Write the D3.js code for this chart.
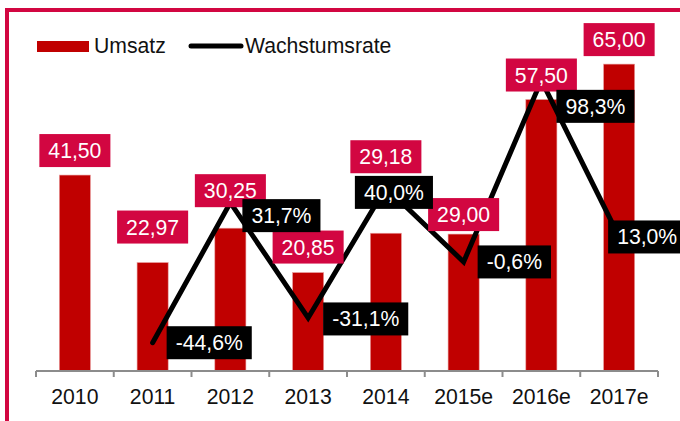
<!DOCTYPE html>
<html>
<head>
<meta charset="utf-8">
<script src="https://cdn.jsdelivr.net/npm/d3@7"></script>
<style>
  html, body { margin: 0; padding: 0; background: #fff; }
  svg { display: block; font-family: "Liberation Sans", Arial, sans-serif; }
</style>
</head>
<body>
<svg id="chart" width="680" height="421"></svg>
<script>
const years = ["2010", "2011", "2012", "2013", "2014", "2015e", "2016e", "2017e"];
const umsatz = [41.50, 22.97, 30.25, 20.85, 29.18, 29.00, 57.50, 65.00];
const wachstum = [null, -44.6, 31.7, -31.1, 40.0, -0.6, 98.3, 13.0];
const seriesNames = ["Umsatz", "Wachstumsrate"];

const svg = d3.select("#chart"),
    red = "#c00000",
    crimson = "#d20641",
    fontSize = 21.2;

const de = d3.formatLocale({ decimal: ",", thousands: ".", grouping: [3], currency: ["", " €"], minus: "-" });
const fmtValue = de.format(".2f"),
    fmtPct = v => de.format(".1f")(v) + "%";

// Frame (only top and left edges visible)
svg.append("rect")
    .attr("x", 7).attr("y", 10)
    .attr("width", 720).attr("height", 460)
    .attr("fill", "none")
    .attr("stroke", crimson)
    .attr("stroke-width", 4);

const x = d3.scaleBand().domain(years).range([36, 658]);
const y = d3.scaleLinear().domain([0, 70]).range([371, 40.5]);
const y2 = d3.scaleLinear().domain([-60, 120]).range([371, 40.5]);
const barW = x.bandwidth() * 0.4;
const cx = d => x(d) + x.bandwidth() / 2;

// Bars
svg.selectAll(".bar")
    .data(years)
    .enter()
    .append("rect")
    .attr("class", "bar")
    .attr("x", d => cx(d) - barW / 2)
    .attr("y", (d, i) => y(umsatz[i]))
    .attr("width", barW)
    .attr("height", (d, i) => y(0) - y(umsatz[i]))
    .attr("fill", red)
    .attr("stroke", "#eaa0a0")
    .attr("stroke-width", 0.6);

// Axis line + ticks at band edges
svg.append("line")
    .attr("x1", 36).attr("x2", 658)
    .attr("y1", y(0)).attr("y2", y(0))
    .attr("stroke", "#8c8c8c")
    .attr("stroke-width", 2);

const edges = years.map(d => x(d)).concat([x.range()[1]]);
svg.selectAll(".tick")
    .data(edges)
    .enter()
    .append("line")
    .attr("x1", d => d).attr("x2", d => d)
    .attr("y1", y(0)).attr("y2", y(0) + 6)
    .attr("stroke", "#8c8c8c")
    .attr("stroke-width", 2);

svg.selectAll(".xlabel")
    .data(years)
    .enter()
    .append("text")
    .attr("x", d => cx(d))
    .attr("y", 404)
    .attr("text-anchor", "middle")
    .style("font-size", fontSize + "px")
    .attr("fill", "#111")
    .text(d => d);

// Growth line
const pts = years.map((d, i) => ({ year: d, v: wachstum[i] })).filter(p => p.v !== null);
const line = d3.line().x(p => cx(p.year)).y(p => y2(p.v));
svg.append("path")
    .datum(pts)
    .attr("d", line)
    .attr("fill", "none")
    .attr("stroke", "#000")
    .attr("stroke-width", 5)
    .attr("stroke-linejoin", "miter")
    .attr("stroke-linecap", "round");

// Label helper: box with white text
function labelBox(bx, centerY, text, fill, anchorLeft) {
    const g = svg.append("g");
    const t = g.append("text")
        .style("font-size", fontSize + "px")
        .attr("fill", "#fff")
        .text(text);
    const w = t.node().getComputedTextLength() + 18;
    const left = anchorLeft ? bx : bx - w / 2;
    g.insert("rect", "text")
        .attr("x", left).attr("y", centerY - 16.5)
        .attr("width", w).attr("height", 33)
        .attr("fill", fill);
    t.attr("x", left + w / 2)
        .attr("y", centerY + 7.5)
        .attr("text-anchor", "middle");
}

// Value labels above bars (gap between box and bar top, as placed in the original)
const barLabelGap = [8, 19, 21, 9, 60, 3, 8, 8];
years.forEach((d, i) => {
    labelBox(cx(d), y(umsatz[i]) - barLabelGap[i] - 16.5, fmtValue(umsatz[i]), crimson, false);
});

// Growth labels (box left edge relative to point, vertical shift)
const pctDx = [0, 14, 12, 15, -31, 14, 15, -11];
const pctDy = [0, 0, 13, 1, 5, 0, 26, 0];
years.forEach((d, i) => {
    if (wachstum[i] === null) return;
    labelBox(cx(d) + pctDx[i], y2(wachstum[i]) + pctDy[i], fmtPct(wachstum[i]), "#000", true);
});

// Legend
const legend = svg.append("g");
legend.append("rect")
    .attr("x", 37).attr("y", 41)
    .attr("width", 52).attr("height", 11)
    .attr("fill", red);
legend.append("text")
    .attr("x", 94).attr("y", 53)
    .style("font-size", fontSize + "px")
    .attr("fill", "#111")
    .text(seriesNames[0]);
legend.append("line")
    .attr("x1", 191).attr("x2", 241)
    .attr("y1", 46).attr("y2", 46)
    .attr("stroke", "#000")
    .attr("stroke-width", 5)
    .attr("stroke-linecap", "round");
legend.append("text")
    .attr("x", 245).attr("y", 53)
    .style("font-size", fontSize + "px")
    .attr("fill", "#111")
    .text(seriesNames[1]);
</script>
</body>
</html>
